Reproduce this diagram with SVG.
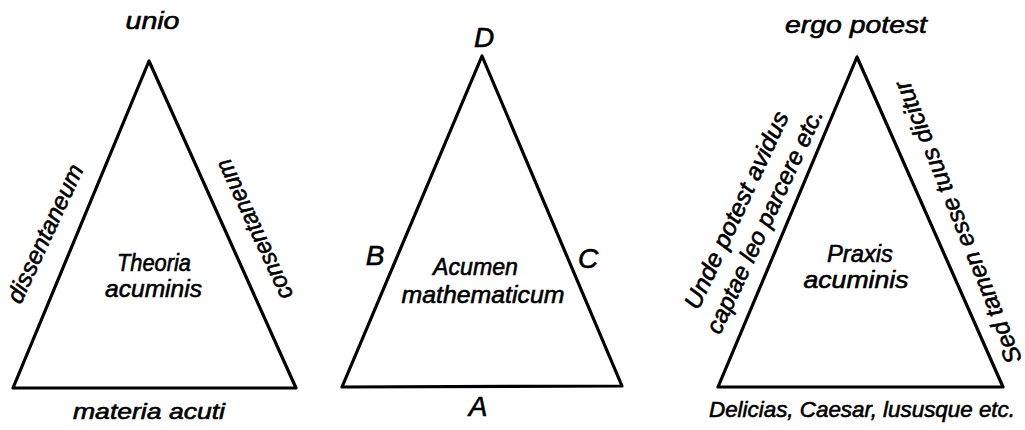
<svg xmlns="http://www.w3.org/2000/svg" width="1025" height="430" viewBox="0 0 1025 430">
<style>
.tri{fill:none;stroke:#000;stroke-width:3.2;stroke-linejoin:round;stroke-linecap:round}
text{font-family:"Liberation Sans","DejaVu Sans",sans-serif;font-style:italic;font-size:24px;fill:#000;stroke:#000;stroke-width:0.6;text-anchor:middle}
.big{font-size:28px}
.foot{font-size:22px}
</style>
<rect width="1025" height="430" fill="#fff"/>
<g id="connectors"></g>
<g id="theoria">
<polygon class="tri" points="149,61 13,388 296,388"/>
<text x="152.5" y="29" textLength="54" lengthAdjust="spacingAndGlyphs">unio</text>
<text x="154" y="271" textLength="74" lengthAdjust="spacingAndGlyphs">Theoria</text>
<text x="153.5" y="297" textLength="97" lengthAdjust="spacingAndGlyphs">acuminis</text>
<text class="foot" x="149" y="419" textLength="152" lengthAdjust="spacingAndGlyphs">materia acuti</text>
<g transform="translate(46,234) rotate(-65)"><text x="0" y="7" textLength="150" lengthAdjust="spacingAndGlyphs">dissentaneum</text></g>
<g transform="translate(255,229) rotate(-115)"><text x="0" y="7" textLength="152" lengthAdjust="spacingAndGlyphs">consentaneum</text></g>
</g>
<g id="acumen">
<polygon class="tri" points="482,56 342,387 622,386"/>
<text class="big" x="484" y="47">D</text>
<text class="big" x="375" y="265">B</text>
<text class="big" x="588" y="268">C</text>
<text class="big" x="478" y="416">A</text>
<text x="475.5" y="275" textLength="85" lengthAdjust="spacingAndGlyphs">Acumen</text>
<text x="483" y="303" textLength="163" lengthAdjust="spacingAndGlyphs">mathematicum</text>
</g>
<g id="praxis">
<polygon class="tri" points="857,57 718,387 1003,387"/>
<text x="856" y="33" textLength="142" lengthAdjust="spacingAndGlyphs">ergo potest</text>
<text x="860" y="262" textLength="66" lengthAdjust="spacingAndGlyphs">Praxis</text>
<text x="856" y="288" textLength="105" lengthAdjust="spacingAndGlyphs">acuminis</text>
<text class="foot" x="862" y="417" textLength="306" lengthAdjust="spacingAndGlyphs">Delicias, Caesar, lususque etc.</text>
<g transform="translate(751,217) rotate(-65)">
<text x="0" y="-8" textLength="215" lengthAdjust="spacingAndGlyphs">Unde potest avidus</text>
<text x="2" y="22" textLength="245" lengthAdjust="spacingAndGlyphs">captae leo parcere etc.</text>
</g>
<g transform="translate(959,222) rotate(-112)"><text x="0" y="7" textLength="303" lengthAdjust="spacingAndGlyphs">Sed tamen esse tuus dicitur</text></g>
</g>
</svg>
